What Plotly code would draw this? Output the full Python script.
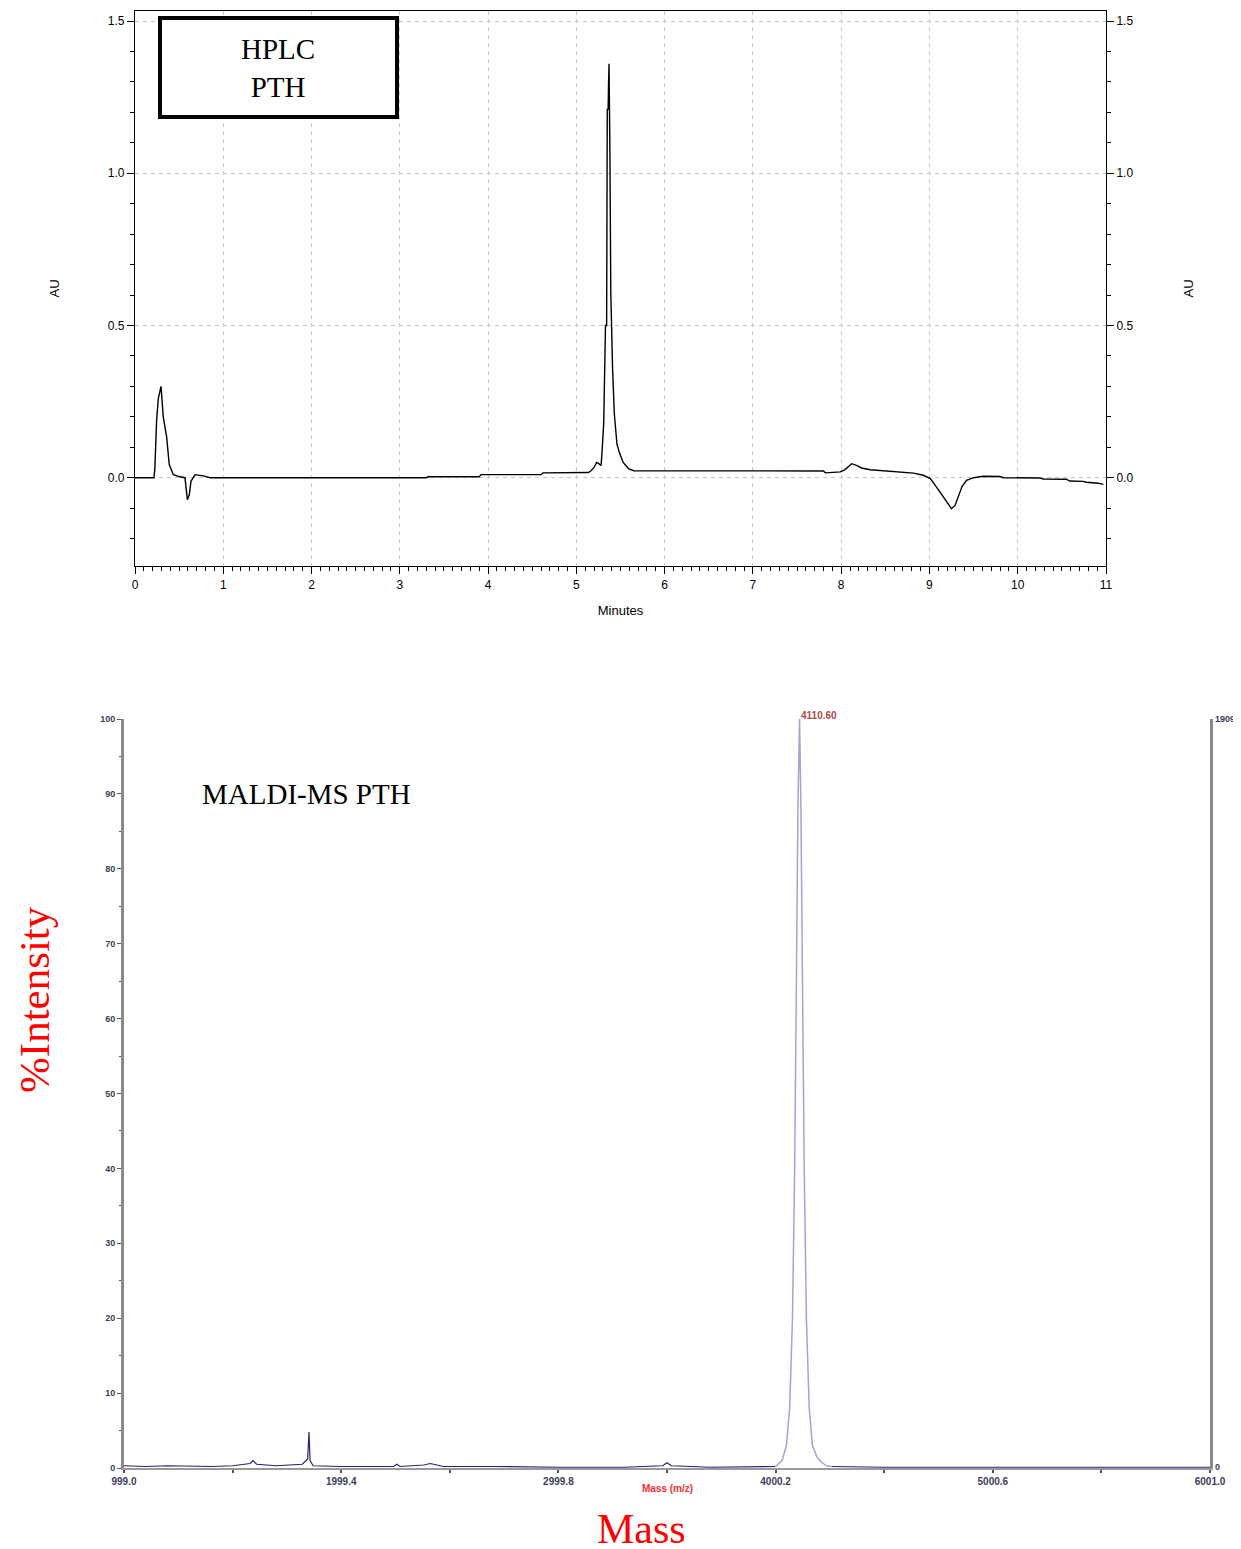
import plotly.graph_objects as go

# ---------------- HPLC data ----------------
hplc_time = [0, 0.2, 0.215, 0.225, 0.245, 0.264, 0.285, 0.295, 0.32, 0.358, 0.388, 0.434, 0.51, 0.566,
             0.593, 0.615, 0.634, 0.68, 0.774, 0.85, 3.3, 3.32, 3.9, 3.92, 4.6, 4.62, 5.136, 5.163, 5.20,
             5.23, 5.25, 5.28, 5.29, 5.31, 5.33, 5.343, 5.35, 5.36, 5.365, 5.37, 5.38, 5.39, 5.41, 5.43,
             5.46, 5.49, 5.53, 5.59, 5.65, 6.0, 7.0, 7.53, 7.80, 7.82, 7.99, 8.04, 8.12, 8.18, 8.23, 8.33,
             8.52, 8.67, 8.82, 8.93, 9.01, 9.08, 9.16, 9.21, 9.25, 9.29, 9.33, 9.37, 9.42, 9.50, 9.61,
             9.80, 9.84, 10.25, 10.29, 10.55, 10.59, 10.74, 10.78, 10.91, 10.97]
hplc_au = [0, 0, 0, 0.03, 0.19, 0.26, 0.29, 0.30, 0.20, 0.135, 0.043, 0.01, 0.003, 0,
           -0.072, -0.056, -0.012, 0.01, 0.006, 0, 0, 0.003, 0.003, 0.01, 0.01, 0.016, 0.017, 0.022, 0.034,
           0.05, 0.047, 0.04, 0.08, 0.18, 0.50, 0.50, 1.21, 1.21, 1.30, 1.36, 1.07, 0.61, 0.36, 0.21,
           0.11, 0.08, 0.05, 0.03, 0.023, 0.023, 0.022, 0.022, 0.022, 0.016, 0.019, 0.026, 0.046, 0.040, 0.032, 0.026,
           0.022, 0.019, 0.015, 0.008, -0.003, -0.031, -0.063, -0.085, -0.102, -0.091, -0.058, -0.028, -0.009, 0, 0.005,
           0.004, 0, -0.001, -0.004, -0.005, -0.011, -0.012, -0.015, -0.018, -0.022]
hplc_xticks = [0, 1, 2, 3, 4, 5, 6, 7, 8, 9, 10, 11]
hplc_yticks = [0.0, 0.5, 1.0, 1.5]
hplc_ytick_text = ["0.0", "0.5", "1.0", "1.5"]

# ---------------- MALDI data ----------------
noise_mass = [999, 1100, 1200, 1300, 1400, 1500, 1580, 1593, 1610, 1700, 1760, 1820, 1845, 1851, 1856,
              1870, 2000, 2100, 2240, 2256, 2270, 2380, 2410, 2440, 2470, 2700, 3000, 3300, 3480, 3500,
              3520, 3700, 3900, 4000]
noise_int = [0.3, 0.2, 0.3, 0.2, 0.2, 0.3, 0.6, 1.0, 0.5, 0.3, 0.4, 0.5, 1.2, 4.8, 1.0,
             0.3, 0.2, 0.2, 0.2, 0.5, 0.2, 0.4, 0.6, 0.4, 0.2, 0.2, 0.1, 0.1, 0.3, 0.7,
             0.3, 0.1, 0.1, 0.2]
tail_mass = [4260, 4500, 5000, 5500, 6001]
tail_int = [0.2, 0.1, 0.1, 0.1, 0.1]
peak_mass = [4000, 4030, 4050, 4065, 4078, 4088, 4096, 4103, 4110.6, 4117, 4124, 4132, 4142, 4155,
             4170, 4190, 4210, 4235, 4260]
peak_int = [0.2, 1.0, 3.0, 8.0, 20, 40, 65, 88, 100, 88, 65, 40, 20, 8,
            3.0, 1.5, 0.8, 0.3, 0.2]
maldi_xticks = [999.0, 1999.4, 2999.8, 4000.2, 5000.6, 6001.0]
maldi_xtick_text = ["999.0", "1999.4", "2999.8", "4000.2", "5000.6", "6001.0"]
maldi_yticks = [0, 10, 20, 30, 40, 50, 60, 70, 80, 90, 100]
peak_label = "4110.60"
right_top_label = "1909.6"

W, H = 1241, 1549
OFF = 8  # default page body margin


def px(x):
    return (x - OFF) / W


def py(y):
    return 1 - (y - OFF) / H


fig = go.Figure()

# HPLC trace
fig.add_trace(go.Scatter(x=hplc_time, y=hplc_au, mode="lines",
                         line=dict(color="black", width=1.4), xaxis="x", yaxis="y",
                         showlegend=False, hoverinfo="skip"))
# invisible copy to activate right axis
fig.add_trace(go.Scatter(x=hplc_time, y=hplc_au, mode="lines",
                         line=dict(color="rgba(0,0,0,0)", width=0), xaxis="x", yaxis="y2",
                         showlegend=False, hoverinfo="skip"))

# MALDI traces
fig.add_trace(go.Scatter(x=noise_mass, y=noise_int, mode="lines",
                         line=dict(color="#22227a", width=1.2), xaxis="x3", yaxis="y3",
                         showlegend=False, hoverinfo="skip"))
fig.add_trace(go.Scatter(x=tail_mass, y=tail_int, mode="lines",
                         line=dict(color="#22227a", width=1.2), xaxis="x3", yaxis="y3",
                         showlegend=False, hoverinfo="skip"))
fig.add_trace(go.Scatter(x=peak_mass, y=peak_int, mode="lines",
                         line=dict(color="#a4a4d2", width=1.5), xaxis="x3", yaxis="y3",
                         showlegend=False, hoverinfo="skip"))

sans = "Liberation Sans, Arial, sans-serif"
tick_font = dict(family=sans, size=12, color="black")
title_font = dict(family=sans, size=13, color="black")
grid_common = dict(showgrid=True, gridcolor="#c8c8c8", griddash="4px,4px", gridwidth=1)
ms_tick_color = "#3c3c5a"

fig.update_layout(
    width=W, height=H,
    margin=dict(l=0, r=0, t=0, b=0, autoexpand=False),
    paper_bgcolor="white", plot_bgcolor="white",
    font=dict(family=sans, color="black"),
    xaxis=dict(domain=[px(135), px(1106)], range=[0, 11], anchor="y", automargin=False,
               tickmode="array", tickvals=hplc_xticks, ticks="outside", ticklen=7,
               tickcolor="black", showline=True, linecolor="black", linewidth=1.2,
               mirror=True, zeroline=False, tickfont=tick_font,
               title=dict(text="Minutes", font=title_font, standoff=15),
               minor=dict(dtick=0.1, ticks="outside", ticklen=4, tickcolor="black", showgrid=False),
               **grid_common),
    yaxis=dict(domain=[py(566), py(11)], range=[-0.29, 1.533], anchor="x", automargin=False,
               tickmode="array", tickvals=hplc_yticks, ticktext=hplc_ytick_text,
               ticks="outside", ticklen=7, tickcolor="black",
               showline=True, linecolor="black", linewidth=1.2, mirror=True, zeroline=False,
               tickfont=tick_font,
               title=dict(text="AU", font=title_font, standoff=45),
               minor=dict(dtick=0.1, ticks="outside", ticklen=4, tickcolor="black", showgrid=False),
               **grid_common),
    yaxis2=dict(overlaying="y", side="right", matches="y", anchor="x", automargin=False,
                tickmode="array", tickvals=hplc_yticks, ticktext=hplc_ytick_text,
                ticks="outside", ticklen=7, tickcolor="black", showgrid=False, zeroline=False,
                showline=False, tickfont=tick_font,
                title=dict(text="AU", font=title_font, standoff=51),
                minor=dict(dtick=0.1, ticks="outside", ticklen=4, tickcolor="black")),
    xaxis3=dict(domain=[px(124), px(1210)], range=[999, 6001], anchor="y3", automargin=False,
                tickmode="array", tickvals=maldi_xticks, ticktext=maldi_xtick_text,
                ticks="outside", ticklen=3, tickcolor="#555555", tickwidth=1.5,
                showline=True, linecolor="#9a9a9a", linewidth=2, showgrid=False, zeroline=False,
                tickfont=dict(family=sans, size=10, color=ms_tick_color, weight="bold"),
                minor=dict(dtick=500.2, tick0=999.0, ticks="outside", ticklen=3, tickcolor="#555555")),
    yaxis3=dict(domain=[py(1468), py(719)], range=[0, 100], anchor="x3", automargin=False,
                tickmode="array", tickvals=maldi_yticks,
                ticks="outside", ticklen=4, tickcolor="#555555",
                showline=True, linecolor="#8a8a8a", linewidth=3, mirror=True,
                showgrid=False, zeroline=False,
                tickfont=dict(family=sans, size=9, color=ms_tick_color, weight="bold"),
                minor=dict(dtick=5, ticks="outside", ticklen=2, tickcolor="#555555")),
)

# HPLC box
fig.add_shape(type="rect", xref="paper", yref="paper",
              x0=px(160), x1=px(397), y0=py(117), y1=py(18),
              line=dict(color="black", width=4), fillcolor="white", layer="above")

serif = "Liberation Serif, Times New Roman, serif"


def ann(text, x, y, font, xanchor="center", yanchor="middle", **kw):
    return dict(text=text, x=px(x), y=py(y), xref="paper", yref="paper",
                xanchor=xanchor, yanchor=yanchor, showarrow=False, font=font, **kw)


annotations = [
    ann("HPLC<br>PTH", 278, 68, dict(family=serif, size=29, color="black"), align="center"),
    ann("MALDI-MS PTH", 200, 794, dict(family=serif, size=29, color="black"), xanchor="left"),
    ann("%Intensity", 35, 1000, dict(family=serif, size=43, color="red"), textangle=-90),
    ann("Mass", 641, 1529, dict(family=serif, size=42, color="red")),
    ann("Mass (m/z)", 667, 1488, dict(family=sans, size=10, color="#ff2a2a", weight="bold")),
    ann(peak_label, 799, 715, dict(family=sans, size=10, color="#b04848", weight="bold"), xanchor="left"),
    ann(right_top_label, 1213, 719, dict(family=sans, size=9, color=ms_tick_color, weight="bold"), xanchor="left"),
    ann("0", 1213, 1467, dict(family=sans, size=9, color=ms_tick_color, weight="bold"), xanchor="left"),
]
fig.update_layout(annotations=annotations)

fig.write_html("out.html")
